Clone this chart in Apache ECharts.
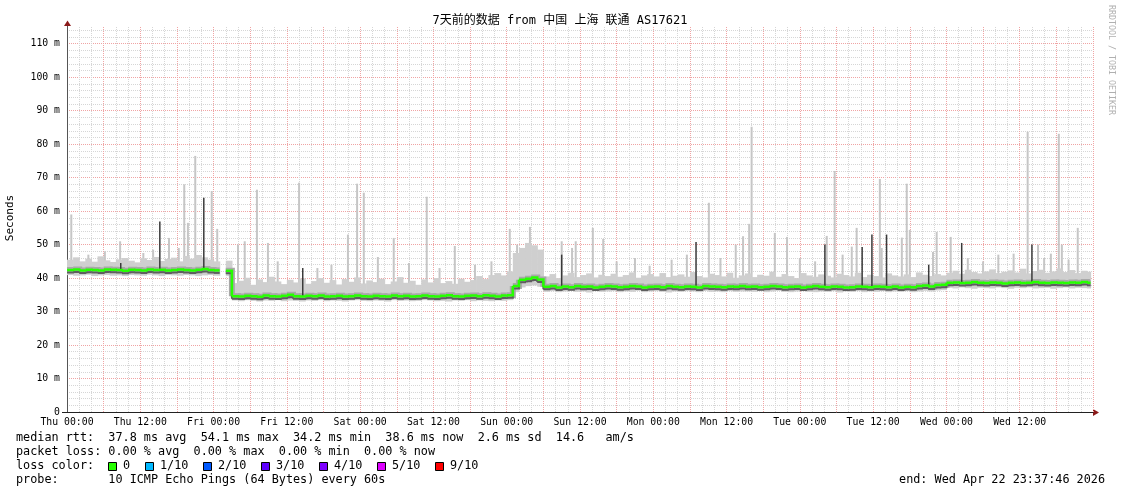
<!DOCTYPE html>
<html><head><meta charset="utf-8">
<script src="https://cdn.jsdelivr.net/npm/echarts@6/dist/echarts.min.js"></script>
<style>html,body{margin:0;padding:0;background:#fff}#c{width:1121px;height:494px}</style>
</head><body><div id="c"></div>
<script>
// ---- data (hours counted from Thu 00:00) ----
const dayNames = ['Thu','Fri','Sat','Sun','Mon','Tue','Wed'];
const END_HOUR = 167.6;
const titleText = '7天前的数据 from 中国 上海 联通 AS17621';
// hourly median rtt (ms)
const median = [
42.4,42.6,42.3,42.5,42.4,42.3,42.6,42.5,42.4,42.2,42.5,42.4,42.3,42.6,42.4,42.5,42.3,42.4,42.6,42.4,42.3,42.5,42.7,42.4,42.3,
null,42.2,
34.6,34.5,34.7,34.6,34.4,34.8,34.6,34.5,34.7,35.0,34.6,34.5,34.7,34.6,34.8,34.5,34.6,34.7,34.5,34.6,
34.8,34.6,34.5,34.7,34.6,34.5,34.8,34.6,34.7,34.5,34.6,34.8,34.6,34.5,34.7,34.9,34.6,34.5,34.7,34.8,
34.6,34.9,34.7,34.5,34.8,
34.9,37.6,39.5,39.8,40.2,39.6,
37.4,37.6,37.2,37.5,37.3,37.6,37.4,37.5,37.2,37.4,37.6,
37.5,37.3,37.4,37.6,37.5,37.2,37.4,37.5,37.3,37.6,37.4,
37.3,37.5,37.4,37.2,37.6,37.5,37.4,37.3,37.5,37.4,37.6,
37.4,37.5,37.3,37.4,37.6,37.5,37.3,37.4,37.5,37.2,37.4,
37.6,37.4,37.3,37.5,37.4,37.2,37.3,37.5,37.4,37.3,37.5,
37.4,37.3,37.5,37.2,37.4,37.3,37.6,37.8,37.5,37.9,38.0,
38.6,38.7,38.5,38.6,38.8,38.6,38.5,38.7,38.6,38.4,38.6,38.7,38.5,38.6,38.8,38.6,38.5,38.7,38.6,38.5,38.7,38.6,38.8,38.6
];
// hourly smoke upper edge (ms)
const smokeHi = [
45.5,46.2,45.0,45.8,44.9,46.5,45.3,44.8,45.6,46.0,45.2,44.7,45.9,45.4,46.3,45.1,45.7,46.1,45.0,46.6,45.8,46.9,46.2,45.5,45.0,
null,45.2,
38.5,39.2,40.1,38.0,39.6,38.8,40.4,39.0,38.2,39.5,
38.7,39.9,38.3,39.1,40.0,38.6,39.4,38.1,39.7,38.9,
40.2,38.4,39.3,38.8,39.8,38.2,39.0,40.3,38.6,39.2,
38.0,39.6,38.7,40.0,38.5,39.1,38.3,39.8,38.9,39.4,
40.6,39.7,40.9,41.5,40.8,
42.0,47.5,49.0,50.5,49.8,48.5,
40.5,41.2,40.0,40.8,41.6,40.3,40.9,41.4,40.2,41.0,40.6,
41.3,40.4,40.9,41.7,40.1,40.8,41.2,40.5,41.5,40.3,40.7,
41.1,40.4,41.8,40.6,40.2,41.3,40.9,40.5,41.6,40.1,40.8,
41.4,40.3,41.0,40.7,41.9,40.4,41.2,40.6,40.0,41.5,40.8,
40.4,41.1,40.7,40.2,41.3,40.9,40.5,41.6,40.3,41.0,40.6,
40.2,41.4,40.8,40.5,41.1,40.3,41.7,41.0,40.6,41.2,40.8,
41.6,42.2,41.3,42.5,41.8,41.4,42.0,42.6,41.5,41.9,42.3,41.7,42.8,41.4,42.1,42.5,41.6,42.0,42.9,41.8,42.4,41.5,42.2,41.9
];
// hourly smoke lower edge (ms)
const smokeLo = [
40.9,40.7,40.8,41.0,40.6,40.8,40.9,40.7,40.8,40.6,40.9,40.8,40.7,41.0,40.8,40.6,40.9,40.8,40.7,40.9,40.8,40.6,40.8,40.9,40.7,
null,40.6,
33.3,33.1,33.4,33.2,33.0,33.3,33.2,33.4,33.1,33.3,
33.2,33.0,33.3,33.2,33.4,33.1,33.3,33.2,33.0,33.3,
33.4,33.2,33.1,33.3,33.2,33.0,33.4,33.2,33.3,33.1,
33.2,33.4,33.3,33.1,33.2,33.0,33.3,33.2,33.4,33.1,
33.3,33.2,33.1,33.3,33.2,
33.4,35.8,37.2,37.6,37.8,37.4,
35.9,36.1,35.8,36.0,36.2,35.9,36.0,35.7,36.1,35.9,36.0,
36.1,35.8,36.0,35.9,36.2,35.8,36.0,36.1,35.9,35.7,36.0,
35.9,36.1,36.0,35.8,36.2,35.9,36.0,35.8,36.1,35.9,36.0,
36.0,35.9,36.1,35.8,36.0,36.2,35.9,35.8,36.0,36.1,35.9,
35.8,36.0,35.9,36.1,35.7,36.0,35.9,36.1,35.8,36.0,35.9,
36.1,35.8,36.0,35.9,36.1,35.8,36.0,36.2,36.0,36.3,36.4,
37.1,36.9,37.2,37.0,36.8,37.1,37.0,36.9,37.2,37.0,36.8,37.1,37.0,37.2,36.9,37.0,37.1,36.8,37.0,37.2,36.9,37.1,37.0,36.9
];
// tall single-ping spikes [hour, ms]
const lightSpikes = [
[0.7,59],[3.5,47],[6.2,48],[8.7,51],[12.5,47.5],[14.1,48.5],[16.7,52],[18.3,49],[19.2,68],[19.8,56.5],[21.0,76.5],[23.7,66],[24.6,54.7],
[28.0,50],[29.1,51],[31.1,66.4],[32.9,50.5],[34.5,45],[38.0,68.5],[41.0,43],[43.3,44],[46.0,53],[47.5,68.2],[48.6,65.5],[50.9,46.3],
[53.5,52],[56.0,44.5],[58.9,64.3],[61.0,43],[63.5,49.6],[66.8,44],[69.5,45],
[72.5,54.7],[73.7,50],[75.8,55.3],[81.0,51],[82.7,49],[83.3,51],[86.1,55],[87.8,51.7],[90.0,45],[93.0,46],[95.4,43.7],[99.0,45.5],
[101.5,47],[105.1,62.5],[107.0,46],[109.5,50],[110.7,52.5],[111.7,56.2],[112.1,85.2],[115.9,53.5],[117.9,52.3],[120.0,46],[122.5,45],
[124.4,52.6],[125.7,72],[127.0,47],[128.5,49.4],[129.3,55],[133.1,69.6],[133.4,49],[136.7,52.1],[137.5,68.2],[138.0,54.4],
[141.8,47.8],[142.4,53.8],[144.7,52.3],[147.5,46],[150.0,45],[152.5,47],[155.0,47.3],[157.3,83.7],[159.0,50],[160.0,46],
[161.1,47.3],[162.4,83.1],[162.9,50],[164.0,45.5],[165.5,55]
];
const darkSpikes = [
[8.8,44.5],[15.2,56.9],[22.4,64],[38.6,43],[81.0,47],[103.0,50.8],[124.1,50],[130.2,49.3],[131.8,53],[134.2,53],
[141.1,44],[146.5,50.5],[158.0,50]
];
const lossLabels = ['0','1/10','2/10','3/10','4/10','5/10','9/10'];
const lossColors = ['#26ff00','#00b8ff','#0059ff','#5e00ff','#7e00ff','#dd00ff','#ff0000'];
const statLines = [
  'median rtt:  37.8 ms avg  54.1 ms max  34.2 ms min  38.6 ms now  2.6 ms sd  14.6   am/s',
  'packet loss: 0.00 % avg  0.00 % max  0.00 % min  0.00 % now',
  'loss color:',
  'probe:       10 ICMP Echo Pings (64 Bytes) every 60s'
];
const endText = 'end: Wed Apr 22 23:37:46 2026';

// ---- build series data ----
const smokeData = [];
const medData = [];
for (let h = 0; h < median.length; h++) {
  if (smokeLo[h] != null && smokeHi[h] != null) smokeData.push([h, smokeLo[h], smokeHi[h]]);
  if (median[h] != null) {
    const nxt = (h + 1 < median.length) ? median[h + 1] : null;
    medData.push([h, median[h], nxt == null ? NaN : nxt]);
  }
}
function baseAt(h) {
  let i = Math.floor(h);
  while (i >= 0 && median[i] == null) i--;
  return median[i];
}
const lightData = lightSpikes.map(s => [s[0], s[1], baseAt(s[0])]);
const darkData = darkSpikes.map(s => [s[0], s[1], baseAt(s[0])]);

const MONO = '"DejaVu Sans Mono", monospace';

function smokeItem(params, api) {
  const h = api.value(0), lo = api.value(1), hi = api.value(2);
  const x1 = Math.min(h + 1, END_HOUR);
  const a = api.coord([h, hi]), b = api.coord([x1, lo]);
  return {type: 'rect', shape: {x: a[0], y: a[1], width: b[0] - a[0] + 0.6, height: b[1] - a[1]},
          style: {fill: '#cfcfcf'}};
}
function spikeItem(color, w) {
  return function (params, api) {
    const h = api.value(0), v = api.value(1), base = api.value(2);
    const a = api.coord([h, v]), b = api.coord([h, base]);
    return {type: 'rect', shape: {x: a[0] - w / 2, y: a[1], width: w, height: b[1] - a[1]}, style: {fill: color}};
  };
}
function medItem(color, width, dy) {
  return function (params, api) {
    const h = api.value(0), v = api.value(1), n = api.value(2);
    const x1 = Math.min(h + 1, END_HOUR);
    const p0 = api.coord([h, v]), p1 = api.coord([x1, v]);
    const pts = [[p0[0], p0[1] + dy], [p1[0], p1[1] + dy]];
    if (!isNaN(n)) { const p2 = api.coord([x1, n]); pts.push([p2[0], p2[1] + dy]); }
    return {type: 'polyline', shape: {points: pts},
            style: {stroke: color, lineWidth: width, fill: null, lineCap: 'butt', lineJoin: 'miter'}};
  };
}

const chart = echarts.init(document.getElementById('c'), null, {renderer: 'canvas'});

const graphics = [];
graphics.push({type: 'text', x: 560, y: 21, style: {text: titleText, font: '12px "DejaVu Sans Mono", "Noto Sans CJK SC", monospace',
  fill: '#000', textAlign: 'center', textVerticalAlign: 'middle'}});
graphics.push({type: 'text', x: 10, y: 218, rotation: Math.PI / 2, style: {text: 'Seconds', font: '11px ' + MONO,
  fill: '#000', textAlign: 'center', textVerticalAlign: 'middle'}});
graphics.push({type: 'text', x: 1111, y: 60, rotation: -Math.PI / 2, style: {text: 'RRDTOOL / TOBI OETIKER', font: '8.3px ' + MONO,
  fill: '#b0b0b0', textAlign: 'center', textVerticalAlign: 'middle'}});
const rowY = [438, 452, 466, 480];
statLines.forEach((t, i) => graphics.push({type: 'text', x: 16, y: rowY[i],
  style: {text: t, font: '11.8px ' + MONO, fill: '#000', textAlign: 'left', textVerticalAlign: 'middle'}}));
const boxX = [108, 145, 203, 261, 319, 377, 435];
lossLabels.forEach((l, i) => {
  graphics.push({type: 'rect', shape: {x: boxX[i] + 0.5, y: 462.5, width: 8, height: 8},
    style: {fill: lossColors[i], stroke: '#000', lineWidth: 1}});
  graphics.push({type: 'text', x: boxX[i] + 15, y: 466,
    style: {text: l, font: '11.8px ' + MONO, fill: '#000', textAlign: 'left', textVerticalAlign: 'middle'}});
});
graphics.push({type: 'text', x: 1105, y: 480, style: {text: endText, font: '11.8px ' + MONO, fill: '#000',
  textAlign: 'right', textVerticalAlign: 'middle'}});
// axis arrows
graphics.push({type: 'line', shape: {x1: 67.5, y1: 27, x2: 67.5, y2: 24}, style: {stroke: '#555', lineWidth: 1}});
graphics.push({type: 'polygon', shape: {points: [[64, 26], [71, 26], [67.5, 20.5]]}, style: {fill: '#8b1a1a'}});
graphics.push({type: 'line', shape: {x1: 62, y1: 412.5, x2: 67, y2: 412.5}, style: {stroke: '#222', lineWidth: 1}});
graphics.push({type: 'polygon', shape: {points: [[1093, 409], [1093, 416], [1099, 412.5]]}, style: {fill: '#8b1a1a'}});

const option = {
  animation: false,
  backgroundColor: '#fff',
  grid: {left: 67, top: 27, width: 1026, height: 385, containLabel: false},
  xAxis: {
    type: 'value', min: 0, max: 168, interval: 6,
    axisLine: {show: true, onZero: false, lineStyle: {color: '#222', width: 1}},
    axisTick: {show: false},
    minorTick: {show: false, splitNumber: 3},
    splitLine: {show: true, lineStyle: {color: '#f0a4a4', type: [1, 1], width: 1}},
    minorSplitLine: {show: true, lineStyle: {color: '#d6d6d6', type: [1, 1], width: 1}},
    axisLabel: {
      margin: 5, color: '#000', fontFamily: MONO, fontSize: 9.8, showMaxLabel: false,
      formatter: v => (v % 12 === 0 && v < 168) ? dayNames[Math.floor(v / 24)] + (v % 24 === 0 ? ' 00:00' : ' 12:00') : ''
    }
  },
  yAxis: {
    type: 'value', min: 0, max: 115, interval: 10,
    axisLine: {show: true, lineStyle: {color: '#555', width: 1}},
    axisTick: {show: false},
    minorTick: {show: false, splitNumber: 5},
    splitLine: {show: true, showMaxLine: false, lineStyle: {color: '#f0a4a4', type: [1, 1], width: 1}},
    minorSplitLine: {show: true, lineStyle: {color: '#d6d6d6', type: [1, 1], width: 1}},
    axisLabel: {margin: 7, color: '#000', fontFamily: MONO, fontSize: 9.8, showMaxLabel: false,
      formatter: v => v === 0 ? '0' : v + ' m'}
  },
  graphic: {elements: graphics},
  series: [
    {type: 'custom', name: 'spikes', coordinateSystem: 'cartesian2d', data: lightData, encode: {x: 0, y: 1},
      renderItem: spikeItem('#c6c6c6', 2), silent: true, clip: true},
    {type: 'custom', name: 'smoke', coordinateSystem: 'cartesian2d', data: smokeData, encode: {x: 0, y: [1, 2]},
      renderItem: smokeItem, silent: true, clip: true},
    {type: 'custom', name: 'inner', coordinateSystem: 'cartesian2d', data: medData, encode: {x: 0, y: 1},
      renderItem: medItem('#a8a8a8', 6, 0), silent: true, clip: true},
    {type: 'custom', name: 'darkspikes', coordinateSystem: 'cartesian2d', data: darkData, encode: {x: 0, y: 1},
      renderItem: spikeItem('#3a3a3a', 1.5), silent: true, clip: true},
    {type: 'custom', name: 'core', coordinateSystem: 'cartesian2d', data: medData, encode: {x: 0, y: 1},
      renderItem: medItem('#5e5e5e', 2, 2.5), silent: true, clip: true},
    {type: 'custom', name: 'median', coordinateSystem: 'cartesian2d', data: medData, encode: {x: 0, y: 1},
      renderItem: medItem('#26ff00', 2.5, 0), silent: true, clip: true}
  ]
};
chart.setOption(option);
</script>
</body></html>
